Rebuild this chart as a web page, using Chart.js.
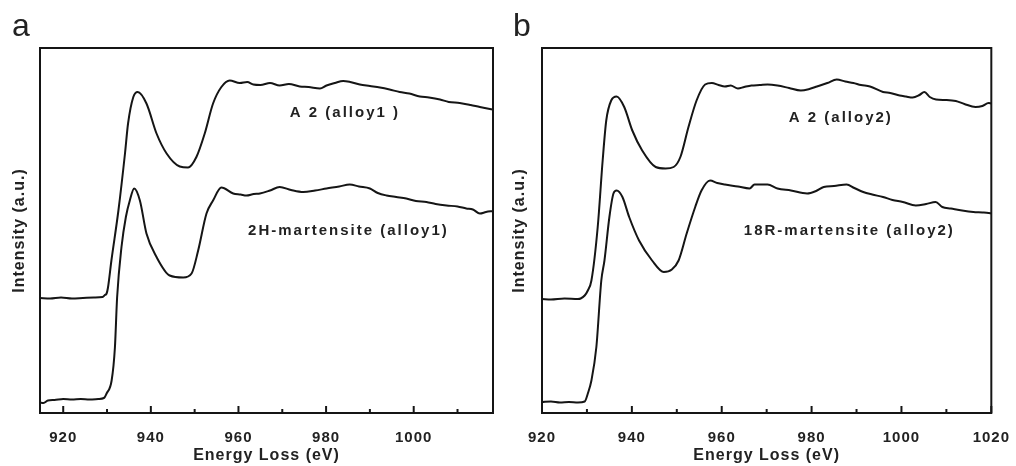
<!DOCTYPE html>
<html>
<head>
    <title>EELS Cu L-edge</title>
    <script src="https://cdn.jsdelivr.net/npm/chart.js"></script>
    <style>
        body { margin: 0; background: #fff; }
        #wrap { position: relative; width: 1016px; height: 466px; }
        canvas { position: absolute; top: 0; }
    </style>
</head>
<body>

<div id="wrap">
    <canvas id="chartA" width="500" height="466" style="left:0"></canvas>
    <canvas id="chartB" width="516" height="466" style="left:500px"></canvas>
</div>

<script>
    // [energy loss (eV), intensity (a.u.)]
    const a2Alloy1 = [
        [914.7,115],[917,114.5],[919.5,115.5],[922,114.5],[924.5,115],[927,115.5],[929,116],[929.5,118],
        [929.9,119.5],[930.2,125],[931.0,152.5],[932.6,202.5],[934.1,259.5],[934.8,289.5],[936.0,316],
        [937.0,321],[939.0,309.5],[941.3,279.5],[943.6,259.5],[946.6,246.5],[948.5,245.5],[950.4,256],
        [952.3,279.5],[954.2,309.5],[956.1,326],[958.0,332.5],[960.3,330],[962.0,331],[963.4,328.5],
        [965.0,328],[967.2,330],[969.4,327.5],[971.5,329],[974.0,326.5],[976.0,326],[978.6,324.5],
        [980.1,327.5],[982.0,330],[983.9,332],[985.5,331],[987.7,328.5],[990.0,327],[992.3,325.5],
        [994.5,323.5],[996.8,321],[999.0,319.5],[1001.4,316.5],[1003.5,315.5],[1006.0,313.5],[1008.0,311],
        [1010.5,310],[1013.0,308],[1015.1,306],[1018.1,303.5]
    ];
    const mart2HAlloy1 = [
        [914.7,10.5],[915.5,10],[916.5,12.5],[918,13],[920,14],[922,13.5],[924,14],[926,13.5],[928,14],
        [929.3,15],[929.9,19.5],[931.05,32.5],[931.8,65.5],[932.3,115.5],[933.3,166],[934.3,196],
        [935.2,212.5],[936.2,224.5],[937.5,212.5],[939.0,179.5],[941.3,156],[944.3,137.5],[947.4,135.5],
        [949.3,139.5],[950.8,162.5],[952.7,199.5],[954.2,212.5],[956.1,225.5],[958.8,219.5],[960.5,218.5],
        [961.8,217.5],[963.5,219],[964.9,219.5],[967.2,222.5],[969.4,226],[972,223],[974.8,221],
        [977.5,222.5],[980.1,224.5],[983,226.5],[985.4,228.5],[987.5,226.5],[990.0,224.5],[991.8,220],
        [993.8,217.5],[996,216],[998.3,214.5],[1000.5,212],[1002.9,211],[1005,209],[1007.5,207.5],
        [1010,206.5],[1012.0,204.5],[1013.5,203.5],[1015.1,199.5],[1016.5,201],[1018.1,202]
    ];
    const a2Alloy2 = [
        [920,114],[922,113.5],[925,114.5],[928,114],[928.6,114.5],[929.5,117.5],[930.2,122.5],[931.0,132.5],
        [932.4,186],[933.5,252.5],[934.3,292.5],[935.4,312.5],[936.6,316.5],[938.3,306],[940.1,282.5],
        [942.3,262.5],[945.3,246],[947.5,244.5],[949.3,246],[950.8,256],[952.6,286],[954.4,312.5],
        [956.3,328.5],[957.8,330],[959.3,328],[960.7,326.5],[962,327.5],[963.6,324.5],[965,326],
        [966.6,327.5],[968.5,328],[970.2,328.5],[972.4,327.5],[975,325],[977.6,322.5],[979.5,324],
        [981.2,326.5],[983.5,330],[985.6,333.5],[987.5,331.5],[989.3,330],[991,328],[993.0,326.5],
        [995.9,321],[997.5,320],[999.6,317.5],[1001,316.5],[1002.5,315.5],[1004,318],[1005.1,321],
        [1006.3,316],[1007.7,313.5],[1010,313],[1012.1,312],[1014,309],[1016.5,306],[1018,307],
        [1019.4,310],[1020,309.5]
    ];
    const mart18RAlloy2 = [
        [920,11],[922,11.5],[924,10.5],[926,11],[928,10.5],[929.5,11.5],[930.2,19.5],[931.0,32.5],
        [932.1,66],[933.2,132.5],[933.9,152.5],[935.0,196],[935.9,219.5],[936.6,222.5],[937.9,216],
        [939.4,196],[941.6,172.5],[944.5,152.5],[947.1,141],[948.9,143.5],[950.4,152.5],[952.2,179.5],
        [954.1,206],[955.5,222.5],[957.4,232.5],[959,230],[960.7,228.5],[963.6,226.5],[966.2,224.5],
        [967.3,228.5],[970.2,228.5],[972.4,224.5],[975.4,222.5],[979.0,219.5],[981,222],[982.7,226],
        [985,227],[987.8,228.5],[989.5,225],[991.5,221],[993.5,218.5],[995.9,216],[998,213],
        [1000.3,211],[1003.2,207.5],[1005.5,209],[1007.6,211],[1009.1,206],[1011,204.5],[1013.5,202.5],
        [1016,201],[1018,200.5],[1019.4,200],[1020,199.5]
    ];

    const notesA = [
        { text: 'A 2 (alloy1 )', x: 984.3, y: 300.5 },
        { text: '2H-martensite (alloy1)', x: 985.1, y: 182.5 }
    ];
    const notesB = [
        { text: 'A 2 (alloy2)', x: 986.5, y: 295.5 },
        { text: '18R-martensite (alloy2)', x: 988.4, y: 182.5 }
    ];

    const FONT = '"Liberation Sans", Arial, sans-serif';
    const INK = '#151515';

    const framePlugin = {
        id: 'frame',
        beforeDraw(chart) {
            chart.ctx.letterSpacing = '1px';
        },
        afterDraw(chart, args, opts) {
            const ctx = chart.ctx;
            const a = chart.chartArea;
            const x = chart.scales.x;
            const y = chart.scales.y;
            ctx.save();
            ctx.strokeStyle = INK;
            ctx.lineWidth = 2;
            ctx.strokeRect(a.left, a.top, a.right - a.left, a.bottom - a.top);
            // inward ticks, long on labelled values
            x.ticks.forEach(t => {
                const px = x.getPixelForValue(t.value);
                const len = t.value % 20 === 0 ? 7 : 4;
                ctx.beginPath();
                ctx.moveTo(px, a.bottom);
                ctx.lineTo(px, a.bottom - len);
                ctx.stroke();
            });
            ctx.fillStyle = '#222';
            ctx.font = 'bold 15px ' + FONT;
            ctx.letterSpacing = '2px';
            ctx.textAlign = 'center';
            ctx.textBaseline = 'middle';
            opts.notes.forEach(n => {
                ctx.fillText(n.text, x.getPixelForValue(n.x), y.getPixelForValue(n.y));
            });
            ctx.letterSpacing = '0px';
            ctx.font = '32px ' + FONT;
            ctx.textAlign = 'left';
            ctx.textBaseline = 'alphabetic';
            ctx.fillText(opts.letter, opts.letterX, 36);
            ctx.restore();
        }
    };

    function makePanel(id, xMin, xMax, series, notes, letter, letterX, yWidth, padRight) {
        return new Chart(document.getElementById(id), {
            type: 'line',
            data: {
                datasets: series.map(s => ({
                    data: s.map(p => ({ x: p[0], y: p[1] })),
                    borderColor: INK,
                    borderWidth: 2,
                    pointRadius: 0,
                    cubicInterpolationMode: 'monotone',
                    fill: false
                }))
            },
            options: {
                responsive: false,
                animation: false,
                layout: { padding: { left: 0, right: padRight, top: 48, bottom: 0 } },
                plugins: {
                    legend: { display: false },
                    tooltip: { enabled: false },
                    frame: { notes: notes, letter: letter, letterX: letterX }
                },
                scales: {
                    x: {
                        type: 'linear',
                        min: xMin,
                        max: xMax,
                        grid: { display: false },
                        border: { color: INK, width: 2 },
                        ticks: {
                            stepSize: 10,
                            includeBounds: false,
                            autoSkip: false,
                            maxRotation: 0,
                            padding: 8,
                            color: '#222',
                            font: { family: FONT, size: 15, weight: 'bold' },
                            callback: v => (v % 20 === 0 ? String(v) : '')
                        },
                        title: {
                            display: true,
                            text: 'Energy Loss (eV)',
                            color: '#222',
                            font: { family: FONT, size: 16, weight: 'bold' },
                            padding: { top: 0, bottom: 1 }
                        },
                        afterFit: s => { s.height = 53; }
                    },
                    y: {
                        min: 0,
                        max: 365,
                        grid: { display: false },
                        border: { color: INK, width: 2 },
                        ticks: { display: false },
                        title: {
                            display: true,
                            text: 'Intensity (a.u.)',
                            color: '#222',
                            font: { family: FONT, size: 16, weight: 'bold' },
                            padding: { top: 10, bottom: 0 }
                        },
                        afterFit: s => { s.width = yWidth; }
                    }
                }
            },
            plugins: [framePlugin]
        });
    }

    makePanel('chartA', 914.7, 1018.1, [a2Alloy1, mart2HAlloy1], notesA, 'a', 12, 40, 7);
    makePanel('chartB', 920, 1020, [a2Alloy2, mart18RAlloy2], notesB, 'b', 13, 42, 20);
</script>

</body>
</html>
